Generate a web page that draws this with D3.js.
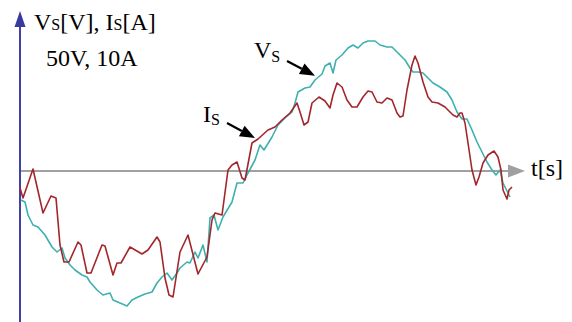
<!DOCTYPE html>
<html>
<head>
<meta charset="utf-8">
<script src="https://cdn.jsdelivr.net/npm/d3@7/dist/d3.min.js"></script>
<style>
  body { margin: 0; background: #fff; }
  text { font-family: "Liberation Serif", "Times New Roman", serif; fill: #000; }
</style>
</head>
<body>
<div id="chart"></div>
<script>
// time in ms, Vs in volts, Is in amps (10A drawn as tall as 50V)
const timeVs = [0.05, 0.25, 0.4, 0.65, 0.9, 1.25, 1.6, 1.85, 2.1, 2.25, 2.5, 2.75, 3.1, 3.35, 3.5, 3.85, 4.15, 4.5, 4.65, 5.0,
  5.35, 5.6, 5.9, 6.25, 6.6, 6.85, 7.1, 7.35, 7.6, 7.85, 8.0, 8.35, 8.5, 8.75, 8.9, 9.15, 9.35, 9.5, 9.7, 9.9,
  10.15, 10.6, 10.85, 11.15, 11.4, 11.75, 12.0, 12.2, 12.6, 12.9, 13.25, 13.6, 13.75, 13.9, 14.25, 14.5, 14.75, 15.1, 15.25, 15.5,
  15.65, 15.8, 16.1, 16.4, 16.65, 16.9, 17.15, 17.4, 17.75, 18.0, 18.35, 18.6, 18.85, 19.0, 19.25, 19.5, 19.65, 19.9, 20.15, 20.4,
  20.65, 21.0, 21.35, 21.6, 21.85, 22.1, 22.35, 22.6, 22.85, 23.1, 23.35, 23.6, 23.8, 24.0, 24.15, 24.4, 24.5];
const vs = [-72.5, -77.5, -110, -135, -140, -160, -190, -202.5, -192.5, -217.5, -235, -247.5, -260, -265, -277.5, -297.5, -310, -305, -322.5, -330,
  -337.5, -322.5, -315, -307.5, -302.5, -280, -265, -255, -272.5, -255, -242.5, -227.5, -230, -202.5, -217.5, -185, -227.5, -117.5, -110, -147.5,
  -115, -77.5, -30, -30, -5, 27.5, 65, 52.5, 85, 115, 132.5, 147.5, 170, 197.5, 207.5, 210, 227.5, 242.5, 262.5, 270,
  245, 277.5, 290, 307.5, 315, 307.5, 320, 325, 325, 315, 310, 310, 297.5, 290, 277.5, 257.5, 247.5, 247.5, 245, 232.5,
  220, 210, 197.5, 177.5, 147.5, 130, 130, 102.5, 72.5, 47.5, 22.5, 2.5, -10, 2.5, -30, -55, -65];

const timeIs = [0, 0.15, 0.65, 1.15, 1.55, 1.8, 2.0, 2.2, 2.45, 2.9, 3.05, 3.35, 3.55, 4.1, 4.25, 4.65, 4.85, 5.05, 5.5, 6.1,
  6.4, 6.85, 7.0, 7.25, 7.45, 7.65, 7.9, 8.0, 8.4, 8.9, 9.35, 9.6, 9.75, 10.1, 10.4, 10.6, 10.85, 11.1, 11.25, 11.6,
  11.9, 12.4, 12.75, 13.1, 13.5, 13.85, 14.0, 14.2, 14.4, 14.6, 14.95, 15.25, 15.5, 15.65, 15.85, 16.1, 16.35, 16.6, 16.85, 17.15,
  17.4, 17.6, 17.85, 18.1, 18.35, 18.6, 18.85, 19.0, 19.15, 19.35, 19.6, 19.75, 19.9, 20.15, 20.4, 20.6, 20.9, 21.25, 21.65, 21.85,
  22.0, 22.1, 22.25, 22.4, 22.6, 22.8, 22.95, 23.15, 23.4, 23.7, 23.9, 24.05, 24.15, 24.35, 24.45, 24.6];
const is = [-8.5, -13.5, 1, -21, -12.5, -13.5, -37, -45.5, -45.5, -35.5, -37, -51, -51, -37, -37.5, -52, -46, -46, -38, -41.5,
  -39.5, -33, -35.5, -53.5, -62, -63, -47, -40.5, -32, -51.5, -43, -24.5, -21, -22, 0.5, 3, 4.5, -3.5, -4.5, 14,
  16, 20.5, 22, 25.5, 29, 34, 29.5, 23, 24.5, 34, 37, 35, 31.5, 38, 44, 42, 35.5, 32, 32, 37,
  40, 39.5, 34.5, 34, 36.5, 35.5, 29, 27, 27.5, 40.5, 53, 57.5, 54, 44.5, 37, 34.5, 34, 32, 28, 27,
  29, 29, 24, 14, 0.5, -7, -3, 4, 8, 10, 7, 0.5, -9.5, -14, -9.5, -8];

const width = 572, height = 322;

const x = d3.scaleLinear().domain([0, 25]).range([20, 520]);
const yV = d3.scaleLinear().domain([-375, 375]).range([321, 21]);
const yI = d3.scaleLinear().domain([-75, 75]).range([321, 21]);

const svg = d3.select("#chart").append("svg")
  .attr("width", width)
  .attr("height", height);

// time axis (grey, with arrow)
svg.append("line")
  .attr("x1", x(0)).attr("x2", x(24.6))
  .attr("y1", yV(0)).attr("y2", yV(0))
  .attr("stroke", "#a0a0a0").attr("stroke-width", 2);
svg.append("path")
  .attr("d", `M${x(25.25)},${yV(0)} L${x(24.4)},${yV(0) - 6.5} L${x(24.4)},${yV(0) + 6.5} Z`)
  .attr("fill", "#a0a0a0");

// vertical axis (blue, with arrow)
svg.append("line")
  .attr("x1", x(0)).attr("x2", x(0))
  .attr("y1", height).attr("y2", 22)
  .attr("stroke", "#4141a6").attr("stroke-width", 2);
svg.append("path")
  .attr("d", `M${x(0)},11 L${x(0) - 5.5},27 L${x(0) + 5.5},27 Z`)
  .attr("fill", "#38389e");

const lineV = d3.line().x((d, i) => x(timeVs[i])).y(d => yV(d));
const lineI = d3.line().x((d, i) => x(timeIs[i])).y(d => yI(d));

svg.append("path")
  .attr("d", lineV(vs))
  .attr("fill", "none")
  .attr("stroke", "#3fb0b0")
  .attr("stroke-width", 1.6)
  .attr("stroke-linejoin", "round");

svg.append("path")
  .attr("d", lineI(is))
  .attr("fill", "none")
  .attr("stroke", "#a3262b")
  .attr("stroke-width", 1.6)
  .attr("stroke-linejoin", "round");

// labels
function label(px, py, main, sub, rest, subDy) {
  const t = svg.append("text").attr("x", px).attr("y", py).style("font-size", "24px");
  t.append("tspan").text(main);
  t.append("tspan").style("font-size", "16px").attr("dy", subDy).text(sub);
  if (rest) t.append("tspan").attr("dy", -subDy).text(rest);
  return t;
}

const title = svg.append("text").attr("x", 34).attr("y", 30).style("font-size", "24px");
title.append("tspan").text("V");
title.append("tspan").style("font-size", "16px").text("S");
title.append("tspan").text("[V], I");
title.append("tspan").style("font-size", "16px").text("S");
title.append("tspan").text("[A]");

svg.append("text").attr("x", 46).attr("y", 66).style("font-size", "24px").text("50V, 10A");

svg.append("text").attr("x", 531).attr("y", 176).style("font-size", "24px").text("t[s]");

label(254, 58, "V", "S", null, 4);
label(203, 122, "I", "S", null, 3);

// annotation arrows, tips sit on the curves
function arrow(x0, y0, tx, ty) {
  const ang = Math.atan2(ty - y0, tx - x0);
  const len = 15, half = 6;
  const bx = tx - len * Math.cos(ang), by = ty - len * Math.sin(ang);
  svg.append("line")
    .attr("x1", x0).attr("y1", y0).attr("x2", bx).attr("y2", by)
    .attr("stroke", "#000").attr("stroke-width", 2.2);
  svg.append("path")
    .attr("d", `M${tx},${ty} L${bx - half * Math.sin(ang)},${by + half * Math.cos(ang)} L${bx + half * Math.sin(ang)},${by - half * Math.cos(ang)} Z`)
    .attr("fill", "#000");
}

arrow(287, 61, x(14.75), yV(238));
arrow(227, 123, x(11.75), yI(16.5));
</script>
</body>
</html>
